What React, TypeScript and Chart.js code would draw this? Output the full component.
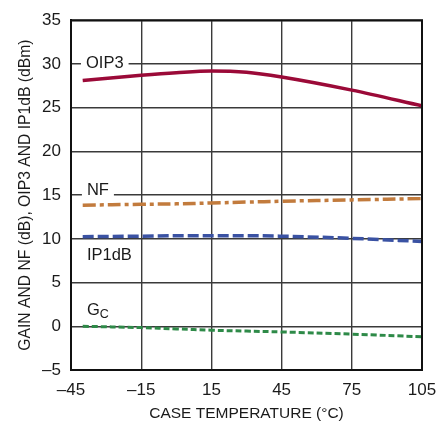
import React, { useEffect, useRef } from "react";
import { Chart, registerables } from "chart.js";

Chart.register(...registerables);

const temps = [-40, -15, 0, 15, 30, 45, 75, 105];
const oip3 = [28.1, 28.7, 29.0, 29.2, 29.05, 28.5, 27.0, 25.2];
const nf = [13.85, 13.95, 14.0, 14.1, 14.2, 14.3, 14.45, 14.6];
const ip1db = [10.25, 10.3, 10.35, 10.35, 10.35, 10.3, 10.05, 9.7];
const gc = [0.0, -0.15, -0.3, -0.45, -0.55, -0.65, -0.9, -1.2];
const xTicks = [-45, -15, 15, 45, 75, 105];
const yTicks = [-5, 0, 5, 10, 15, 20, 25, 30, 35];

const FONT = "'Liberation Sans', Arial, sans-serif";

const fmt = (v: number) => (v < 0 ? "\u2013" + Math.abs(v) : String(v));

const pts = (ys: number[]) => temps.map((x, i) => ({ x, y: ys[i] }));

const labelsPlugin = {
  id: "curveLabels",
  afterDatasetsDraw(chart: any) {
    const { ctx, scales } = chart;
    const xs = scales.x;
    const ys = scales.y;
    const drawLabel = (text: string, xv: number, yv: number, dy: number, bg: boolean) => {
      ctx.save();
      ctx.font = `16.5px ${FONT}`;
      ctx.textBaseline = "middle";
      ctx.textAlign = "left";
      const x = xs.getPixelForValue(xv);
      const y = ys.getPixelForValue(yv) + dy;
      const w = ctx.measureText(text).width;
      if (bg) {
        ctx.fillStyle = "#fff";
        ctx.fillRect(x - 5, y - 9, w + 10, 18);
      }
      ctx.fillStyle = "#1a1a1a";
      ctx.fillText(text, x, y);
      ctx.restore();
    };
    drawLabel("OIP3", -38.6, 30, 0, true);
    drawLabel("NF", -38.2, 15, -5, true);
    drawLabel("IP1dB", -38.2, 10, 17, false);
    ctx.save();
    ctx.fillStyle = "#1a1a1a";
    ctx.textBaseline = "middle";
    ctx.textAlign = "left";
    const gx = xs.getPixelForValue(-38.2);
    const gy = ys.getPixelForValue(5) + 28;
    ctx.font = `16.5px ${FONT}`;
    ctx.fillText("G", gx, gy);
    const gw = ctx.measureText("G").width;
    ctx.font = `12.5px ${FONT}`;
    ctx.fillText("C", gx + gw, gy + 4);
    ctx.restore();
  },
};

export default function App() {
  const ref = useRef<HTMLCanvasElement>(null);
  useEffect(() => {
    if (!ref.current) return;
    const chart = new Chart(ref.current, {
      type: "line",
      data: {
        datasets: [
          {
            label: "OIP3",
            data: pts(oip3),
            borderColor: "#9B0A38",
            borderWidth: 3.5,
            pointRadius: 0,
            cubicInterpolationMode: "monotone",
          },
          {
            label: "NF",
            data: pts(nf),
            borderColor: "#C27B3D",
            borderWidth: 3.5,
            borderDash: [13, 4, 4, 4],
            pointRadius: 0,
            tension: 0.4,
          },
          {
            label: "IP1dB",
            data: pts(ip1db),
            borderColor: "#3A52A3",
            borderWidth: 3.5,
            borderDash: [11, 4],
            pointRadius: 0,
            cubicInterpolationMode: "monotone",
          },
          {
            label: "GC",
            data: pts(gc),
            borderColor: "#2E8A48",
            borderWidth: 3,
            borderDash: [6, 3],
            pointRadius: 0,
            tension: 0.4,
          },
        ],
      },
      options: {
        animation: false,
        responsive: false,
        devicePixelRatio: 1,
        layout: { padding: { top: 19, right: 26, left: 0, bottom: 0 } },
        plugins: { legend: { display: false }, tooltip: { enabled: false } },
        scales: {
          x: {
            type: "linear",
            min: -45,
            max: 105,
            afterBuildTicks: (s: any) => {
              s.ticks = xTicks.map((v) => ({ value: v }));
            },
            afterFit: (s: any) => {
              s.height = 53;
            },
            grid: { color: "#3a3a3a", lineWidth: 1.4, drawTicks: false },
            border: { color: "#111", width: 2 },
            ticks: {
              color: "#1a1a1a",
              font: { family: FONT, size: 17 },
              padding: 10,
              maxRotation: 0,
              callback: (v: any) => fmt(Number(v)),
            },
            title: {
              display: true,
              text: "CASE TEMPERATURE (\u00B0C)",
              color: "#1a1a1a",
              font: { family: FONT, size: 15.5 },
              padding: { top: 4, bottom: 0 },
            },
          },
          y: {
            type: "linear",
            min: -5,
            max: 35,
            afterBuildTicks: (s: any) => {
              s.ticks = yTicks.map((v) => ({ value: v }));
            },
            afterFit: (s: any) => {
              s.width = 71;
            },
            grid: { color: "#3a3a3a", lineWidth: 1.4, drawTicks: false },
            border: { color: "#111", width: 2 },
            ticks: {
              color: "#1a1a1a",
              font: { family: FONT, size: 17 },
              padding: 10,
              callback: (v: any) => fmt(Number(v)),
            },
            title: {
              display: true,
              text: "GAIN AND NF (dB), OIP3 AND IP1dB (dBm)",
              color: "#1a1a1a",
              font: { family: FONT, size: 15.7 },
              padding: { top: 16, bottom: 0 },
            },
          },
        },
      },
      plugins: [
        labelsPlugin,
        {
          id: "frame",
          afterDatasetsDraw(c: any) {
            const { ctx, chartArea: a } = c;
            ctx.save();
            ctx.strokeStyle = "#111";
            ctx.lineWidth = 2;
            ctx.strokeRect(a.left, a.top, a.right - a.left, a.bottom - a.top);
            ctx.restore();
          },
        },
      ],
    } as any);
    return () => chart.destroy();
  }, []);
  return (
    <div style={{ position: "fixed", left: 0, top: 0, width: 448, height: 423, background: "#fff" }}>
      <canvas ref={ref} width={448} height={423} style={{ width: 448, height: 423 }} />
    </div>
  );
}
